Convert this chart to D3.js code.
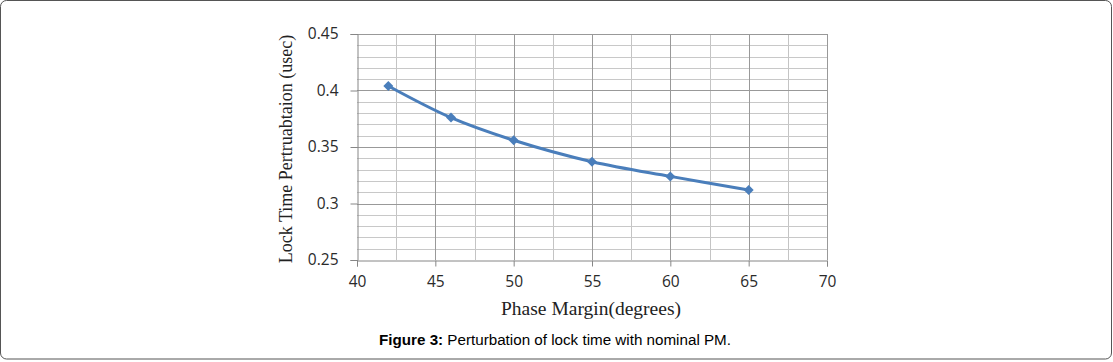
<!DOCTYPE html>
<html>
<head>
<meta charset="utf-8">
<script src="https://cdn.jsdelivr.net/npm/d3@7"></script>
<style>
body { margin: 0; background: #fff; }
</style>
</head>
<body>
<script>
// donnees
var phaseMargin = [42, 46, 50, 55, 60, 65];
var lockTime = [0.404, 0.376, 0.356, 0.337, 0.324, 0.312];
var xTicks = [40, 45, 50, 55, 60, 65, 70];
var yTicks = [0.25, 0.3, 0.35, 0.4, 0.45];
var yTickLabels = ["0.25", "0.3", "0.35", "0.4", "0.45"];

var width = 1113,
	height = 362;

var svg = d3.select("body")
	.append("svg")
	.attr("width", width)
	.attr("height", height);

// cadre arrondi autour de la figure
svg.append("rect")
	.attr("x", 0.5).attr("y", 0.5)
	.attr("width", 1111).attr("height", 358.5)
	.attr("rx", 6)
	.attr("fill", "none")
	.attr("stroke", "#555");

var x = d3.scaleLinear().domain([40, 70]).range([357, 827]);
var y = d3.scaleLinear().domain([0.25, 0.45]).range([260, 34]);

// grille mineure
var g = svg.append("g");
g.selectAll("line.vmin")
	.data(d3.range(42.5, 70, 5))
	.enter().append("line")
	.attr("x1", d => Math.round(x(d)) + 0.5).attr("x2", d => Math.round(x(d)) + 0.5)
	.attr("y1", y(0.25)).attr("y2", y(0.45))
	.attr("stroke", "#c4c4c4");
g.selectAll("line.hmin")
	.data(d3.range(0.26, 0.45, 0.01).filter(d => Math.abs(d * 20 - Math.round(d * 20)) > 0.01))
	.enter().append("line")
	.attr("x1", x(40)).attr("x2", x(70))
	.attr("y1", d => Math.round(y(d)) + 0.5).attr("y2", d => Math.round(y(d)) + 0.5)
	.attr("stroke", "#c8c8c8");

// grille majeure
g.selectAll("line.vmaj")
	.data(xTicks.slice(1))
	.enter().append("line")
	.attr("x1", d => Math.round(x(d)) + 0.5).attr("x2", d => Math.round(x(d)) + 0.5)
	.attr("y1", y(0.25)).attr("y2", y(0.45))
	.attr("stroke", "#999");
g.selectAll("line.hmaj")
	.data(yTicks.slice(1))
	.enter().append("line")
	.attr("x1", x(40)).attr("x2", x(70))
	.attr("y1", d => Math.round(y(d)) + 0.5).attr("y2", d => Math.round(y(d)) + 0.5)
	.attr("stroke", "#999");

// axes
var xAxis = d3.axisBottom(x).tickValues(xTicks).tickSize(6).tickPadding(9);
var yAxis = d3.axisLeft(y).tickValues(yTicks).tickSize(7).tickPadding(12)
	.tickFormat((d, i) => yTickLabels[i]);

var gx = svg.append("g").attr("transform", "translate(0," + (Math.round(y(0.25)) + 0.5) + ")").call(xAxis);
var gy = svg.append("g").attr("transform", "translate(" + (Math.round(x(40)) + 0.5) + ",0)").call(yAxis);
[gx, gy].forEach(function(a) {
	a.select(".domain").attr("stroke", "#868686");
	a.selectAll(".tick line").attr("stroke", "#868686");
	a.selectAll("text")
		.attr("font-family", "'Open Sans', sans-serif")
		.attr("font-size", 15.5)
		.attr("fill", "#2a2a2a");
});

// courbe lissee
var line = d3.line()
	.x((d, i) => x(phaseMargin[i]))
	.y(d => y(d))
	.curve(d3.curveCatmullRom.alpha(0.5));

svg.append("path")
	.datum(lockTime)
	.attr("d", line)
	.attr("fill", "none")
	.attr("stroke", "#4a7ebb")
	.attr("stroke-width", 3);

// losanges (carre tourne de 45 degres)
svg.selectAll("path.marker")
	.data(lockTime)
	.enter().append("path")
	.attr("class", "marker")
	.attr("d", d3.symbol().type(d3.symbolSquare).size(50))
	.attr("transform", (d, i) => "translate(" + x(phaseMargin[i]) + "," + y(d) + ") rotate(45)")
	.attr("fill", "#4a7ebb");

// titres des axes
svg.append("text")
	.attr("transform", "translate(292,149) rotate(-90)")
	.attr("text-anchor", "middle")
	.attr("font-family", "'Liberation Serif', serif")
	.attr("font-size", 18)
	.attr("fill", "#222")
	.text("Lock Time Pertruabtaion (usec)");

svg.append("text")
	.attr("x", 591).attr("y", 315)
	.attr("text-anchor", "middle")
	.attr("font-family", "'Liberation Serif', serif")
	.attr("font-size", 19.5)
	.attr("fill", "#222")
	.text("Phase Margin(degrees)");

// legende de la figure
var cap = svg.append("text")
	.attr("x", 555).attr("y", 345)
	.attr("text-anchor", "middle")
	.attr("font-family", "'Liberation Sans', Arial, sans-serif")
	.attr("font-size", 15.2)
	.attr("fill", "#000");
cap.append("tspan").attr("font-weight", "bold").text("Figure 3:");
cap.append("tspan").text(" Perturbation of lock time with nominal PM.");
</script>
</body>
</html>
